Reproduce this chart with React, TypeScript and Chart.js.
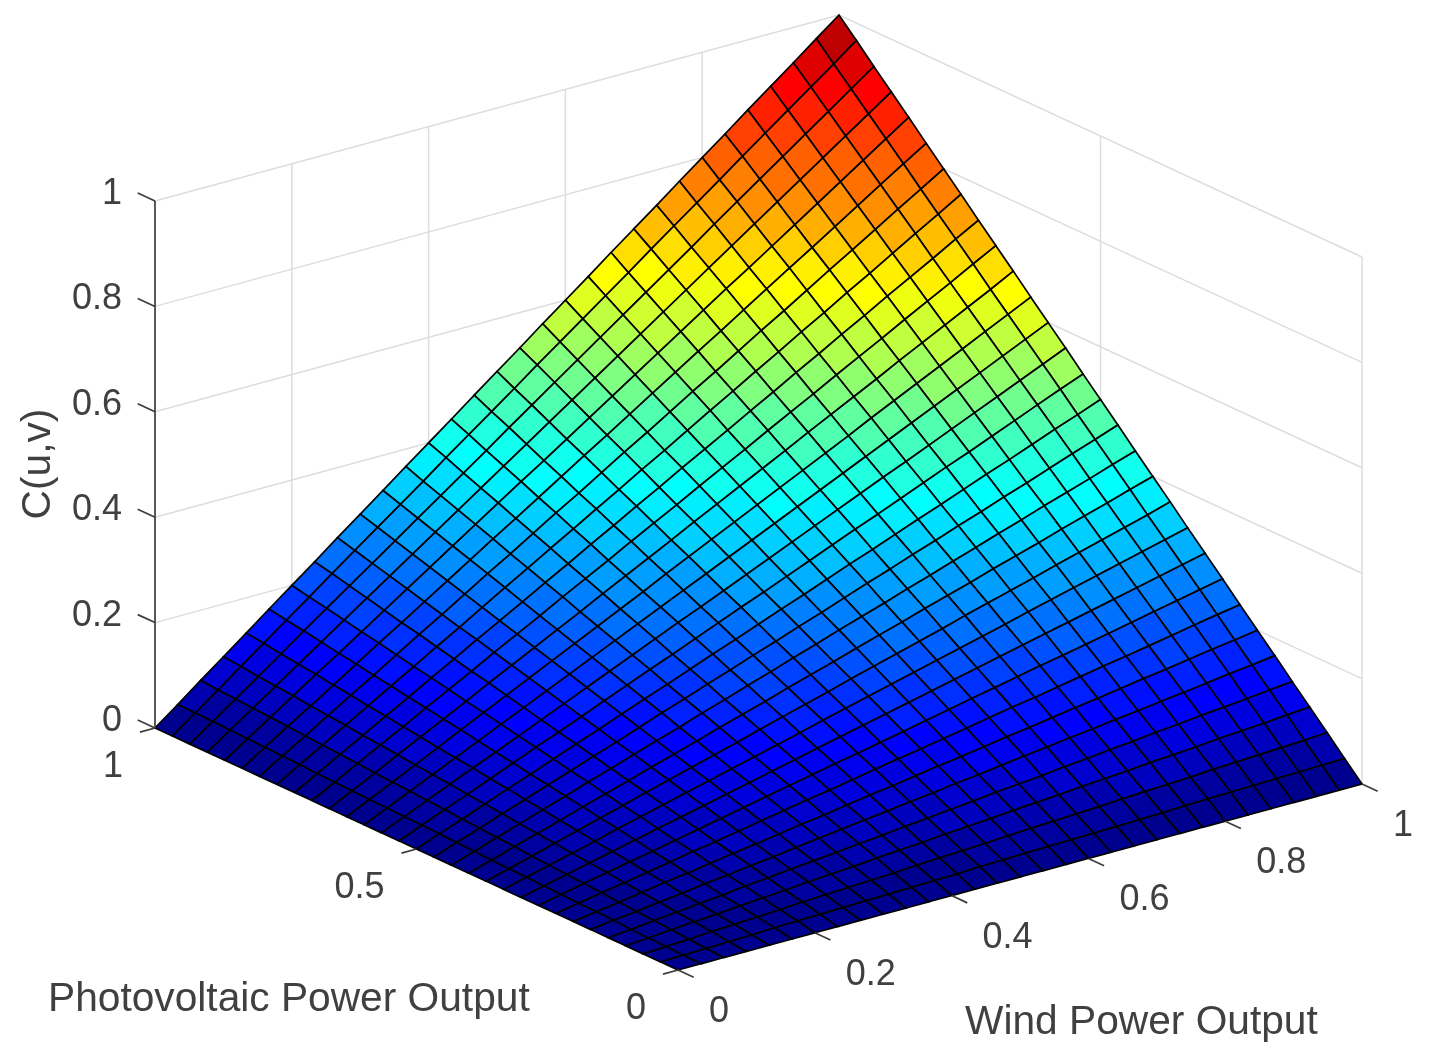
import React, { useEffect, useRef } from "react";
import { Chart, registerables } from "chart.js";

Chart.register(...registerables);

const windTicks = [0, 0.2, 0.4, 0.6, 0.8, 1];
const windTickLabels = ["0", "0.2", "0.4", "0.6", "0.8", "1"];
const pvTicks = [0, 0.5, 1];
const pvTickLabels = ["0", "0.5", "1"];
const zTicks = [0, 0.2, 0.4, 0.6, 0.8, 1];
const zTickLabels = ["0", "0.2", "0.4", "0.6", "0.8", "1"];
const windTitle = "Wind Power Output";
const pvTitle = "Photovoltaic Power Output";
const zTitle = "C(u,v)";

// Mesh nodes on both horizontal axes
const meshNodes = [
  0, 0.0333, 0.0667, 0.1, 0.1333, 0.1667, 0.2, 0.2333, 0.2667, 0.3, 0.3333, 0.3667, 0.4, 0.4333, 0.4667, 0.5,
  0.5333, 0.5667, 0.6, 0.6333, 0.6667, 0.7, 0.7333, 0.7667, 0.8, 0.8333, 0.8667, 0.9, 0.9333, 0.9667, 1,
];

// C(u,v) read from the surface; row r lists the values for columns r..30 (the surface is symmetric)
const surfaceRows: number[][] = [
  [0,0,0,0,0,0,0,0,0,0,0,0,0,0,0,0,0,0,0,0,0,0,0,0,0,0,0,0,0,0,0],
  [.001,.002,.003,.004,.006,.007,.008,.009,.010,.011,.012,.013,.014,.016,.017,.018,.019,.020,.021,.022,.023,.024,.026,.027,.028,.029,.030,.031,.032,.033],
  [.004,.007,.009,.011,.013,.016,.018,.020,.022,.024,.027,.029,.031,.033,.036,.038,.040,.042,.044,.047,.049,.051,.053,.056,.058,.060,.062,.064,.067],
  [.010,.013,.017,.020,.023,.027,.030,.033,.037,.040,.043,.047,.050,.053,.057,.060,.063,.067,.070,.073,.077,.080,.083,.087,.090,.093,.097,.100],
  [.018,.022,.027,.031,.036,.040,.044,.049,.053,.058,.062,.067,.071,.076,.080,.084,.089,.093,.098,.102,.107,.111,.116,.120,.124,.129,.133],
  [.028,.033,.039,.044,.050,.056,.061,.067,.072,.078,.083,.089,.094,.100,.106,.111,.117,.122,.128,.133,.139,.144,.150,.156,.161,.167],
  [.040,.047,.053,.060,.067,.073,.080,.087,.093,.100,.107,.113,.120,.127,.133,.140,.147,.153,.160,.167,.173,.180,.187,.193,.200],
  [.054,.062,.070,.078,.086,.093,.101,.109,.117,.124,.132,.140,.148,.156,.163,.171,.179,.187,.194,.202,.210,.218,.226,.233],
  [.071,.080,.089,.098,.107,.116,.124,.133,.142,.151,.160,.169,.178,.187,.196,.204,.213,.222,.231,.240,.249,.258,.267],
  [.090,.100,.110,.120,.130,.140,.150,.160,.170,.180,.190,.200,.210,.220,.230,.240,.250,.260,.270,.280,.290,.300],
  [.111,.122,.133,.144,.156,.167,.178,.189,.200,.211,.222,.233,.244,.256,.267,.278,.289,.300,.311,.322,.333],
  [.134,.147,.159,.171,.183,.196,.208,.220,.232,.244,.257,.269,.281,.293,.306,.318,.330,.342,.354,.367],
  [.160,.173,.187,.200,.213,.227,.240,.253,.267,.280,.293,.307,.320,.333,.347,.360,.373,.387,.400],
  [.188,.202,.217,.231,.246,.260,.274,.289,.303,.318,.332,.347,.361,.376,.390,.404,.419,.433],
  [.218,.233,.249,.264,.280,.296,.311,.327,.342,.358,.373,.389,.404,.420,.436,.451,.467],
  [.250,.267,.283,.300,.317,.333,.350,.367,.383,.400,.417,.433,.450,.467,.483,.500],
  [.284,.302,.320,.338,.356,.373,.391,.409,.427,.444,.462,.480,.498,.516,.533],
  [.321,.340,.359,.378,.397,.416,.434,.453,.472,.491,.510,.529,.548,.567],
  [.360,.380,.400,.420,.440,.460,.480,.500,.520,.540,.560,.580,.600],
  [.401,.422,.443,.464,.486,.507,.528,.549,.570,.591,.612,.633],
  [.444,.467,.489,.511,.533,.556,.578,.600,.622,.644,.667],
  [.490,.513,.537,.560,.583,.607,.630,.653,.677,.700],
  [.538,.562,.587,.611,.636,.660,.684,.709,.733],
  [.588,.613,.639,.664,.690,.716,.741,.767],
  [.640,.667,.693,.720,.747,.773,.800],
  [.694,.722,.750,.778,.806,.833],
  [.751,.780,.809,.838,.867],
  [.810,.840,.870,.900],
  [.871,.902,.933],
  [.934,.967],
  [1],
];

const W = 1429;
const H = 1061;
// Orthographic view of the unit cube
const ORIGIN = { x: 678, y: 970 };
const WIND_VEC = { x: 684, y: -186 };
const PV_VEC = { x: -523, y: -242 };
const Z_VEC = { x: 0, y: -527 };

function project(w: number, p: number, z: number) {
  return {
    x: ORIGIN.x + w * WIND_VEC.x + p * PV_VEC.x + z * Z_VEC.x,
    y: ORIGIN.y + w * WIND_VEC.y + p * PV_VEC.y + z * Z_VEC.y,
  };
}

function surfaceAt(i: number, j: number) {
  const a = Math.min(i, j);
  const b = Math.max(i, j);
  return a === 0 ? 0 : surfaceRows[a][b - a];
}

function jetColor(z: number) {
  const t = Math.min(64, Math.floor(z * 64) + 1) / 64;
  const c = (v: number) => Math.round(255 * Math.max(0, Math.min(1, v)));
  const r = c(Math.min(4 * t - 1.5, -4 * t + 4.5));
  const g = c(Math.min(4 * t - 0.5, -4 * t + 3.5));
  const b = c(Math.min(4 * t + 0.5, -4 * t + 2.5));
  return `rgb(${r},${g},${b})`;
}

const seg = (pts: { x: number; y: number }[], color: string, width: number) => ({
  type: "scatter" as const,
  data: pts,
  showLine: true,
  fill: false,
  borderColor: color,
  borderWidth: width,
  pointRadius: 0,
  tension: 0,
  clip: false,
});

const AXIS = "#3c3c3c";
const GRID = "#dddddd";
const TEXT = "#404040";

function buildDatasets() {
  const out: any[] = [];
  // Axis ruler and tick marks (topmost)
  out.push(seg([project(0, 1, 0), project(0, 1, 1)], AXIS, 1.7));
  zTicks.forEach((z) => out.push(seg([project(0, 1, z), project(0, 1.033, z)], AXIS, 1.7)));
  windTicks.forEach((w) => out.push(seg([project(w, 0, 0), project(w, -0.03, 0)], AXIS, 1.7)));
  pvTicks.forEach((p) => out.push(seg([project(0, p, 0), project(-0.022, p, 0)], AXIS, 1.7)));
  // Surface cells, nearest first
  const n = meshNodes.length - 1;
  const cells: { i: number; j: number }[] = [];
  for (let i = 0; i < n; i++) for (let j = 0; j < n; j++) cells.push({ i, j });
  cells.sort((a, b) => a.i + a.j - (b.i + b.j));
  cells.forEach(({ i, j }) => {
    const pts = [
      project(meshNodes[i], meshNodes[j], surfaceAt(i, j)),
      project(meshNodes[i + 1], meshNodes[j], surfaceAt(i + 1, j)),
      project(meshNodes[i + 1], meshNodes[j + 1], surfaceAt(i + 1, j + 1)),
      project(meshNodes[i], meshNodes[j + 1], surfaceAt(i, j + 1)),
      project(meshNodes[i], meshNodes[j], surfaceAt(i, j)),
    ];
    out.push({
      ...seg(pts, "#000000", 1.7),
      fill: "shape",
      backgroundColor: jetColor(surfaceAt(i, j)),
    });
  });
  // Back walls
  zTicks.forEach((z) => {
    out.push(seg([project(0, 1, z), project(1, 1, z), project(1, 0, z)], GRID, 1.5));
  });
  windTicks.forEach((w) => {
    if (w > 0 && w < 1) out.push(seg([project(w, 1, 0), project(w, 1, 1)], GRID, 1.5));
  });
  pvTicks.forEach((p) => {
    if (p < 1) out.push(seg([project(1, p, 0), project(1, p, 1)], GRID, 1.5));
  });
  return out;
}

const textPlugin = {
  id: "axisText",
  afterDraw(chart: any) {
    const { ctx, scales } = chart;
    const px = (v: number) => scales.x.getPixelForValue(v);
    const py = (v: number) => scales.y.getPixelForValue(v);
    ctx.save();
    ctx.fillStyle = TEXT;
    ctx.textBaseline = "middle";
    ctx.font = '36px "Liberation Sans"';
    ctx.textAlign = "right";
    zTicks.forEach((z, k) => {
      const q = project(0, 1, z);
      ctx.fillText(zTickLabels[k], px(q.x) - 33, py(q.y) - 7);
    });
    pvTicks.forEach((p, k) => {
      const q = project(0, p, 0);
      ctx.fillText(pvTickLabels[k], px(q.x) - 32, py(q.y) + 39);
    });
    ctx.textAlign = "left";
    windTicks.forEach((w, k) => {
      const q = project(w, 0, 0);
      ctx.fillText(windTickLabels[k], px(q.x) + 31, py(q.y) + 42);
    });
    ctx.font = '40.7px "Liberation Sans"';
    ctx.fillText(pvTitle, 48, 1000);
    ctx.fillText(windTitle, 965, 1023);
    ctx.translate(39, 464);
    ctx.rotate(-Math.PI / 2);
    ctx.textAlign = "center";
    ctx.fillText(zTitle, 0, 0);
    ctx.restore();
  },
};

export default function App() {
  const ref = useRef<HTMLCanvasElement | null>(null);
  useEffect(() => {
    if (!ref.current) return;
    const chart = new Chart(ref.current, {
      type: "scatter",
      data: { datasets: buildDatasets() },
      plugins: [textPlugin],
      options: {
        animation: false,
        responsive: false,
        devicePixelRatio: 1,
        layout: { padding: 0 },
        events: [],
        plugins: { legend: { display: false }, tooltip: { enabled: false } },
        scales: {
          x: { type: "linear", min: 0, max: W, display: false },
          y: { type: "linear", min: 0, max: H, reverse: true, display: false },
        },
      },
    } as any);
    return () => chart.destroy();
  }, []);
  return (
    <div style={{ position: "absolute", left: 0, top: 0, width: W, height: H, background: "#fff" }}>
      <canvas ref={ref} width={W} height={H} style={{ display: "block", filter: "blur(0.7px)" }} />
    </div>
  );
}
